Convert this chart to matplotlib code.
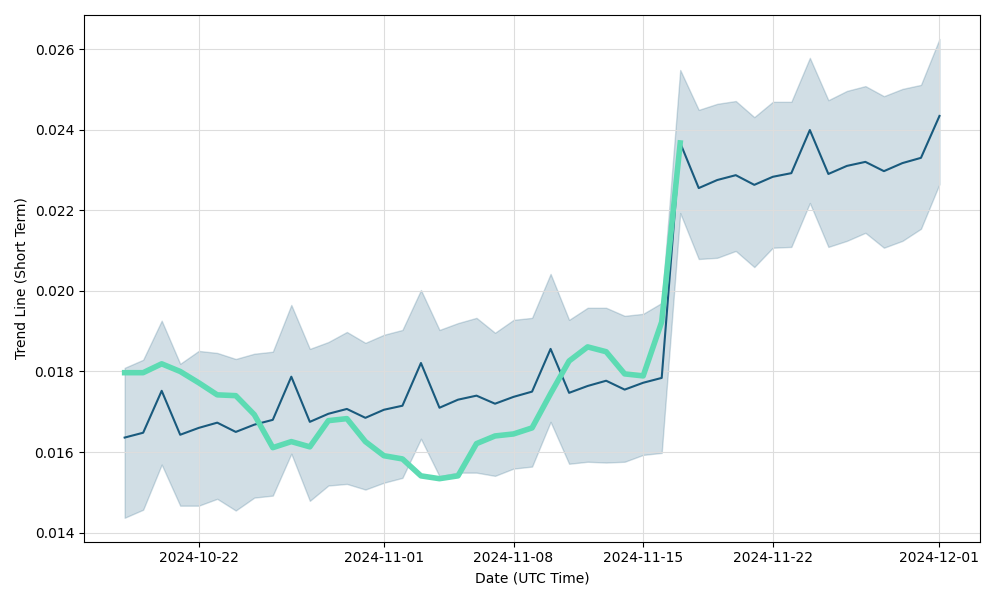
import matplotlib
matplotlib.use('Agg')
import matplotlib.pyplot as plt
import numpy as np
import pandas as pd

dates = pd.date_range('2024-10-18', '2024-12-01', freq='D')

trend = [0.01636, 0.01648, 0.01752, 0.01643, 0.01660, 0.01673, 0.01650, 0.01668, 0.01680, 0.01787,
         0.01675, 0.01695, 0.01707, 0.01685, 0.01705, 0.01715, 0.01821, 0.01710, 0.01730, 0.01740,
         0.01720, 0.01737, 0.01750, 0.01856, 0.01747, 0.01764, 0.01777, 0.01755, 0.01772, 0.01784,
         0.02367, 0.02255, 0.02275, 0.02287, 0.02263, 0.02283, 0.02292, 0.02399, 0.02290, 0.02310,
         0.02320, 0.02297, 0.02317, 0.02330, 0.02434]

upper = [0.01809, 0.01829, 0.01926, 0.01819, 0.01851, 0.01846, 0.01831, 0.01844, 0.01849, 0.01965,
         0.01856, 0.01873, 0.01898, 0.01871, 0.01891, 0.01903, 0.02002, 0.01903, 0.01920, 0.01933,
         0.01896, 0.01928, 0.01933, 0.02042, 0.01928, 0.01958, 0.01958, 0.01938, 0.01943, 0.01970,
         0.02548, 0.02449, 0.02464, 0.02471, 0.02431, 0.02469, 0.02469, 0.02578, 0.02473, 0.02496,
         0.02508, 0.02483, 0.02501, 0.02511, 0.02625]

lower = [0.01437, 0.01457, 0.01569, 0.01467, 0.01467, 0.01484, 0.01455, 0.01487, 0.01492, 0.01596,
         0.01479, 0.01517, 0.01521, 0.01507, 0.01524, 0.01536, 0.01633, 0.01540, 0.01549, 0.01549,
         0.01541, 0.01559, 0.01564, 0.01675, 0.01571, 0.01576, 0.01574, 0.01576, 0.01593, 0.01598,
         0.02193, 0.02079, 0.02082, 0.02099, 0.02059, 0.02107, 0.02109, 0.02218, 0.02109, 0.02124,
         0.02144, 0.02107, 0.02124, 0.02154, 0.02265]

# actual price, only up to 2024-11-17
actual = [0.01797, 0.01797, 0.01819, 0.01800, 0.01772, 0.01742, 0.01740, 0.01693, 0.01611, 0.01626,
          0.01613, 0.01678, 0.01683, 0.01626, 0.01591, 0.01583, 0.01541, 0.01534, 0.01541, 0.01621,
          0.01640, 0.01645, 0.01660, 0.01745, 0.01826, 0.01861, 0.01849, 0.01794, 0.01789, 0.01923,
          0.02367]

line_color = '#195a7d'

fig, ax = plt.subplots(figsize=(10, 6), dpi=100)

ax.fill_between(dates, lower, upper, color=line_color, alpha=0.2)
ax.plot(dates, trend, color=line_color, linewidth=1.5)
ax.plot(dates[:len(actual)], actual, color='#5ddbb3', linewidth=4)

ax.set_xlabel('Date (UTC Time)')
ax.set_ylabel('Trend Line (Short Term)')
ax.grid(True, color='#dddddd', linewidth=0.8)

plt.tight_layout()
plt.savefig('out.png')
